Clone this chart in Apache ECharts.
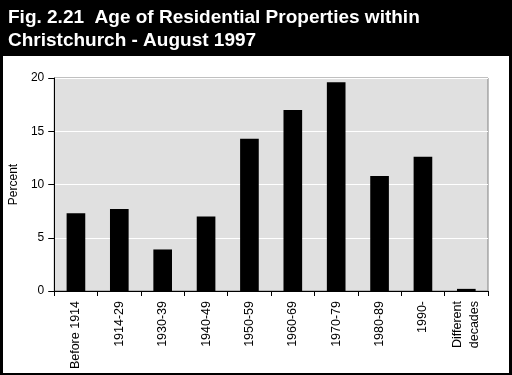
<!DOCTYPE html>
<html>
<head>
<meta charset="utf-8">
<script src="https://cdn.jsdelivr.net/npm/echarts@6/dist/echarts.min.js"></script>
<style>
  html, body { margin: 0; padding: 0; background: #000; }
  #main { width: 512px; height: 375px; }
</style>
</head>
<body>
<div id="main"></div>
<script>
// Daten
const titleLines = ["Fig. 2.21  Age of Residential Properties within", "Christchurch - August 1997"];
const categories = ["Before 1914", "1914-29", "1930-39", "1940-49", "1950-59", "1960-69", "1970-79", "1980-89", "1990-", "Different\ndecades"];
const percent = [7.3, 7.7, 3.9, 7.0, 14.3, 17.0, 19.6, 10.8, 12.6, 0.2];
const yTicks = { min: 0, max: 20, interval: 5 };

const chart = echarts.init(document.getElementById("main"));

chart.setOption({
    backgroundColor: "#000",
    animation: false,
    title: {
        text: titleLines.join("\n"),
        left: 3,
        top: 1,
        textStyle: {
            color: "#fff",
            fontFamily: "Liberation Sans, Arial, sans-serif",
            fontWeight: "bold",
            fontSize: 19,
            lineHeight: 23
        }
    },
    graphic: [{
        type: "rect",
        z: -10,
        shape: { x: 3, y: 56, width: 506, height: 317 },
        style: { fill: "#fff" }
    }],
    grid: {
        left: 46,
        top: 78,
        width: 442,
        height: 213,
        show: true,
        backgroundColor: "#e0e0e0",
        borderColor: "#808080",
        borderWidth: 1
    },
    xAxis: {
        type: "category",
        data: categories,
        axisLine: { lineStyle: { color: "#000", width: 1 } },
        axisTick: { show: true, length: 5, alignWithLabel: false, lineStyle: { color: "#000" } },
        axisLabel: {
            rotate: 90,
            interval: 0,
            margin: 10,
            color: "#000",
            fontFamily: "Liberation Sans, Arial, sans-serif",
            fontSize: 12.5,
            lineHeight: 17
        }
    },
    yAxis: {
        type: "value",
        min: yTicks.min,
        max: yTicks.max,
        interval: yTicks.interval,
        name: "Percent",
        nameLocation: "middle",
        nameGap: 23,
        nameTextStyle: {
            color: "#000",
            fontFamily: "Liberation Sans, Arial, sans-serif",
            fontSize: 12
        },
        axisLine: { show: true, lineStyle: { color: "#000" } },
        axisTick: { show: true, length: 6, lineStyle: { color: "#000" } },
        axisLabel: {
            margin: 10,
            color: "#000",
            fontFamily: "Liberation Sans, Arial, sans-serif",
            fontSize: 12
        },
        splitLine: { show: true, lineStyle: { color: "#fff", width: 1 } }
    },
    series: [{
        type: "bar",
        data: percent,
        barWidth: "43%",
        itemStyle: { color: "#000" }
    }]
});
</script>
</body>
</html>
